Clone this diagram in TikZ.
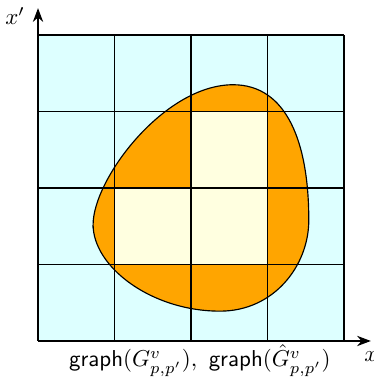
\documentclass[tikz,border=0pt]{standalone}
\usepackage{amsmath}
\definecolor{celeste}{HTML}{DDFFFF}
\definecolor{crema}{HTML}{FFFFE0}
\definecolor{naranja}{HTML}{FFA500}
\usetikzlibrary{arrows.meta}

\begin{document}
\begin{tikzpicture}[scale=1.17]
        \useasboundingbox (-0.497,-0.497) rectangle (4.392,4.458);
        \fill[celeste] (0,0) rectangle (4,4);

        % the set and the cells inside it
        \fill[naranja, draw=black, line width=0.5pt] (0.72,1.52)
          .. controls (0.72,2.12) and (1.65,3.35) .. (2.55,3.35)
          .. controls (3.25,3.35) and (3.54,2.6) .. (3.54,1.58)
          .. controls (3.54,0.98) and (3.08,0.39) .. (2.38,0.39)
          .. controls (1.48,0.39) and (0.72,0.97) .. cycle;
        \foreach \x/\y in {2/2, 1/1, 2/1} {
          \fill[crema] (\x,\y) rectangle (\x+1,\y+1);
        }

        \draw[line width=0.75pt] (0,0) grid (4,4);

        % axes
        \coordinate (origen) at (0,0);
        \coordinate (xfin) at (4.35,0);
        \coordinate (yfin) at (0,4.35);
        \draw[-{Stealth[length=6pt]}, line width=0.5pt] (origen) -- (xfin)
          node[midway, below, inner sep=1.5pt, xshift=-2pt] (etiq) {\textsf{graph}$(G^v_{p,p'}),~\textsf{graph}(\hat G^v_{p,p'})$};
        \draw[-{Stealth[length=6pt]}, line width=0.5pt] (origen) -- (yfin);
        \node[below=1pt] (ejex) at (xfin) {$x$};
        \node (ejey) at (-0.30,4.25) {$x'$};
      \end{tikzpicture}
\end{document}
